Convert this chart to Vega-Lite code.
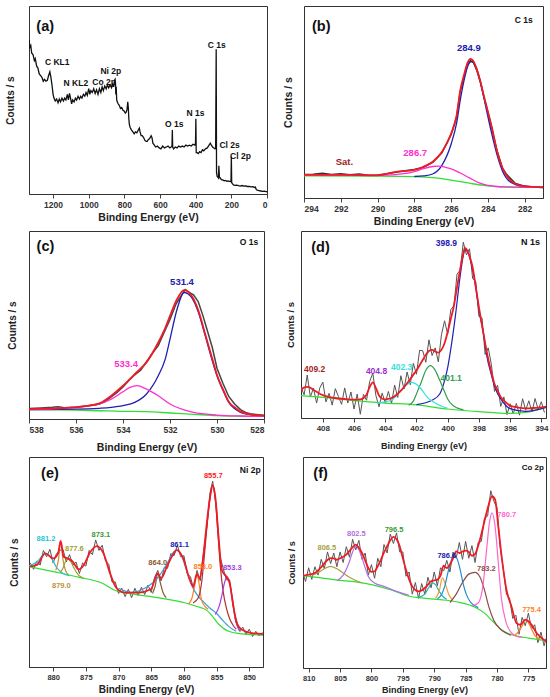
{
  "$schema": "https://vega.github.io/schema/vega-lite/v6.json",
  "padding": {"left": 4, "top": 5, "right": 2, "bottom": 2},
  "background": "white",
  "config": {
    "font": "Liberation Sans",
    "view": {"stroke": "#333", "strokeWidth": 1},
    "axis": {"grid": false, "labelFontWeight": "bold", "labelFontSize": 8.5, "labelColor": "#333", "titleFontWeight": "bold", "titleFontSize": 10.5, "titleColor": "#222", "tickColor": "#444", "domainColor": "#333", "tickSize": 4, "labelPadding": 2, "titlePadding": 4},
    "axisY": {"labels": false, "ticks": false, "domain": false},
    "text": {"font": "Liberation Sans", "fontWeight": "bold"}
  },
  "datasets": {
    "a_raw": [
      {"x":1335,"y":82},{"x":1330,"y":78},{"x":1325,"y":79},{"x":1320,"y":75},{"x":1312,"y":74},{"x":1305,"y":71},{"x":1300,"y":72},{"x":1292,"y":68},{"x":1285,"y":67},{"x":1278,"y":64},{"x":1270,"y":63},{"x":1262,"y":62},{"x":1255,"y":60},{"x":1248,"y":61},{"x":1240,"y":60},{"x":1232,"y":60.5},{"x":1225,"y":63},{"x":1218,"y":65},{"x":1212,"y":62},{"x":1206,"y":58},{"x":1200,"y":53},{"x":1195,"y":51},{"x":1188,"y":49.5},{"x":1180,"y":50.5},{"x":1172,"y":48.5},{"x":1165,"y":50.5},{"x":1158,"y":49},{"x":1150,"y":51},{"x":1142,"y":49.5},{"x":1135,"y":51},{"x":1128,"y":50},{"x":1120,"y":53},{"x":1114,"y":50},{"x":1108,"y":53.5},{"x":1102,"y":51},{"x":1096,"y":48},{"x":1090,"y":50},{"x":1082,"y":49},{"x":1075,"y":51},{"x":1068,"y":50},{"x":1060,"y":52},{"x":1052,"y":50.5},{"x":1045,"y":52},{"x":1038,"y":51},{"x":1030,"y":53},{"x":1022,"y":52},{"x":1015,"y":54},{"x":1008,"y":52.5},{"x":1000,"y":56},{"x":994,"y":53},{"x":988,"y":55},{"x":980,"y":54},{"x":972,"y":56},{"x":964,"y":53.5},{"x":956,"y":55.5},{"x":948,"y":53},{"x":940,"y":56},{"x":932,"y":54},{"x":925,"y":57},{"x":918,"y":55},{"x":910,"y":57.5},{"x":902,"y":56},{"x":895,"y":58},{"x":888,"y":56.5},{"x":880,"y":58},{"x":872,"y":56.5},{"x":866,"y":58.5},{"x":860,"y":57},{"x":855,"y":60.5},{"x":852,"y":61},{"x":850,"y":59},{"x":848,"y":53},{"x":846,"y":57},{"x":843,"y":50},{"x":840,"y":49},{"x":835,"y":48},{"x":828,"y":47},{"x":822,"y":45.5},{"x":815,"y":46},{"x":808,"y":44.5},{"x":800,"y":44},{"x":795,"y":43},{"x":790,"y":43.5},{"x":785,"y":45},{"x":781,"y":49},{"x":778,"y":46},{"x":775,"y":40},{"x":772,"y":37},{"x":768,"y":35.5},{"x":760,"y":34},{"x":752,"y":33},{"x":745,"y":32},{"x":738,"y":33},{"x":730,"y":32.5},{"x":722,"y":34},{"x":716,"y":35},{"x":712,"y":33},{"x":706,"y":31},{"x":700,"y":31},{"x":692,"y":30},{"x":685,"y":28.5},{"x":678,"y":28},{"x":672,"y":28},{"x":665,"y":29},{"x":658,"y":29.5},{"x":650,"y":31},{"x":645,"y":30},{"x":640,"y":27},{"x":632,"y":26},{"x":625,"y":25},{"x":615,"y":25.5},{"x":605,"y":24.5},{"x":595,"y":24},{"x":585,"y":25.5},{"x":575,"y":24.5},{"x":565,"y":25},{"x":555,"y":25.5},{"x":545,"y":24.5},{"x":538,"y":25},{"x":533,"y":25.5},{"x":531,"y":34},{"x":529,"y":25},{"x":524,"y":24},{"x":515,"y":25},{"x":505,"y":24.5},{"x":495,"y":25.5},{"x":485,"y":25},{"x":475,"y":25.5},{"x":465,"y":25},{"x":455,"y":26},{"x":445,"y":25.5},{"x":435,"y":26},{"x":425,"y":25.5},{"x":415,"y":26.5},{"x":405,"y":26},{"x":401,"y":27},{"x":399,"y":40},{"x":397,"y":22},{"x":392,"y":22},{"x":385,"y":21.5},{"x":378,"y":22.5},{"x":370,"y":22},{"x":362,"y":23.5},{"x":355,"y":23},{"x":345,"y":24},{"x":335,"y":24.5},{"x":325,"y":26},{"x":318,"y":27},{"x":312,"y":26},{"x":305,"y":25},{"x":298,"y":24.5},{"x":292,"y":24},{"x":288,"y":24.5},{"x":285,"y":77},{"x":283,"y":11.5},{"x":280,"y":9.5},{"x":276,"y":9},{"x":272,"y":8.5},{"x":270,"y":15},{"x":267,"y":9},{"x":262,"y":8.5},{"x":255,"y":7.5},{"x":248,"y":7.5},{"x":240,"y":7},{"x":232,"y":7.2},{"x":225,"y":6.8},{"x":218,"y":7},{"x":212,"y":6.6},{"x":206,"y":6.8},{"x":202,"y":6.5},{"x":200,"y":20},{"x":198,"y":6},{"x":194,"y":5.5},{"x":188,"y":4.8},{"x":180,"y":4.6},{"x":170,"y":4.7},{"x":160,"y":4.4},{"x":150,"y":4.2},{"x":140,"y":4.5},{"x":130,"y":4.2},{"x":120,"y":4.3},{"x":110,"y":4},{"x":100,"y":4.1},{"x":90,"y":3.8},{"x":80,"y":3.9},{"x":70,"y":3.5},{"x":65,"y":3.7},{"x":60,"y":2.3},{"x":55,"y":2},{"x":45,"y":1.8},{"x":35,"y":1.6},{"x":25,"y":1.4},{"x":15,"y":1.5},{"x":5,"y":1.3},{"x":0,"y":1.2}
    ],
    "a_lab": [
      {"x":1177,"y":70,"t":"C KL1"},{"x":1072,"y":59,"t":"N KL2"},{"x":914,"y":59.5,"t":"Co 2p"},{"x":876,"y":65.5,"t":"Ni 2p"},{"x":520,"y":37,"t":"O 1s"},{"x":401,"y":43,"t":"N 1s"},{"x":282,"y":79.5,"t":"C 1s"},{"x":210,"y":26,"t":"Cl 2s"},{"x":149,"y":20,"t":"Cl 2p"}
    ],
    "b_raw": [
      {"x":294,"y":12.2},{"x":293.5,"y":12.4},{"x":293,"y":12.9},{"x":292.5,"y":12.3},{"x":292,"y":12.6},{"x":291.5,"y":12.1},{"x":291,"y":12.5},{"x":290.5,"y":11.9},{"x":290,"y":12.0},{"x":289.5,"y":12.6},{"x":289,"y":13.4},{"x":288.5,"y":14.2},{"x":288,"y":14.9},{"x":287.5,"y":16.0},{"x":287,"y":18.6},{"x":286.5,"y":23.5},{"x":286,"y":33.0},{"x":285.7,"y":42},{"x":285.5,"y":55.5},{"x":285.3,"y":63},{"x":285.1,"y":69.5},{"x":284.95,"y":71.5},{"x":284.8,"y":70.8},{"x":284.6,"y":66.5},{"x":284.4,"y":60},{"x":284.2,"y":52},{"x":284,"y":44.8},{"x":283.8,"y":37},{"x":283.5,"y":24.5},{"x":283.2,"y":15.5},{"x":283,"y":12.5},{"x":282.5,"y":7.6},{"x":282,"y":6.2},{"x":281.5,"y":5.7},{"x":281,"y":5.5}
    ],
    "b_sum": [
      {"x":294,"y":12},{"x":292,"y":12},{"x":290,"y":11.8},{"x":289,"y":13.6},{"x":288,"y":14.6},{"x":287.5,"y":16.3},{"x":287,"y":18.9},{"x":286.5,"y":24},{"x":286,"y":33.5},{"x":285.7,"y":43},{"x":285.5,"y":56},{"x":285.3,"y":64},{"x":285.1,"y":70.5},{"x":284.95,"y":72.5},{"x":284.8,"y":71.5},{"x":284.6,"y":67},{"x":284.4,"y":60.5},{"x":284.2,"y":52.5},{"x":284,"y":45},{"x":283.8,"y":37.5},{"x":283.5,"y":24.5},{"x":283.2,"y":15.5},{"x":283,"y":12},{"x":282.5,"y":7.3},{"x":282,"y":6.1},{"x":281,"y":5.6}
    ],
    "b_fit": [
      {"x":294,"y":11.5,"s":"bg"},{"x":290,"y":11.4,"s":"bg"},{"x":288,"y":11.1,"s":"bg"},{"x":287,"y":10.6,"s":"bg"},{"x":286.5,"y":10.1,"s":"bg"},{"x":286,"y":9.3,"s":"bg"},{"x":285.5,"y":8.5,"s":"bg"},{"x":285,"y":7.7,"s":"bg"},{"x":284.5,"y":6.9,"s":"bg"},{"x":284,"y":6.3,"s":"bg"},{"x":283.5,"y":5.9,"s":"bg"},{"x":283,"y":5.7,"s":"bg"},{"x":281,"y":5.5,"s":"bg"},
      {"x":288,"y":11.2,"s":"p1"},{"x":287.5,"y":11.5,"s":"p1"},{"x":287,"y":12.5,"s":"p1"},{"x":286.5,"y":17,"s":"p1"},{"x":286,"y":28,"s":"p1"},{"x":285.7,"y":39,"s":"p1"},{"x":285.5,"y":51,"s":"p1"},{"x":285.3,"y":61,"s":"p1"},{"x":285.1,"y":68.5,"s":"p1"},{"x":284.9,"y":71,"s":"p1"},{"x":284.7,"y":69.5,"s":"p1"},{"x":284.5,"y":64,"s":"p1"},{"x":284.3,"y":56,"s":"p1"},{"x":284.1,"y":47,"s":"p1"},{"x":283.8,"y":34,"s":"p1"},{"x":283.5,"y":22.5,"s":"p1"},{"x":283.2,"y":14,"s":"p1"},{"x":283,"y":10.5,"s":"p1"},{"x":282.5,"y":7,"s":"p1"},{"x":282,"y":6,"s":"p1"},{"x":281,"y":5.5,"s":"p1"},
      {"x":294,"y":12,"s":"p2"},{"x":290,"y":11.8,"s":"p2"},{"x":289,"y":12.2,"s":"p2"},{"x":288,"y":13.7,"s":"p2"},{"x":287.5,"y":15.3,"s":"p2"},{"x":287,"y":16.4,"s":"p2"},{"x":286.7,"y":16.6,"s":"p2"},{"x":286.3,"y":16,"s":"p2"},{"x":286,"y":15.2,"s":"p2"},{"x":285.5,"y":13,"s":"p2"},{"x":285,"y":10.5,"s":"p2"},{"x":284.5,"y":8,"s":"p2"},{"x":284,"y":6.6,"s":"p2"},{"x":283.5,"y":6,"s":"p2"},{"x":283,"y":5.8,"s":"p2"},{"x":281,"y":5.5,"s":"p2"}
    ],
    "b_lab": [
      {"x":285.03,"y":78,"t":"284.9","s":"p1"},{"x":287.95,"y":23.6,"t":"286.7","s":"p2"},{"x":291.8,"y":18.8,"t":"Sat.","s":"sat"}
    ],
    "c_raw": [
      {"x":538,"y":5.6},{"x":537.5,"y":5.9},{"x":537,"y":6.2},{"x":536.75,"y":6.5},{"x":536.5,"y":6.0},{"x":536,"y":6.4},{"x":535.5,"y":7.0},{"x":535,"y":8.0},{"x":534.75,"y":9.5},{"x":534.5,"y":11.8},{"x":534.25,"y":14.2},{"x":534,"y":17.0},{"x":533.75,"y":20.5},{"x":533.5,"y":23.5},{"x":533.25,"y":26.0},{"x":533,"y":30.5},{"x":532.75,"y":35.0},{"x":532.5,"y":39.0},{"x":532.25,"y":46},{"x":532,"y":53},{"x":531.75,"y":61},{"x":531.5,"y":66},{"x":531.35,"y":68.8},{"x":531.2,"y":67.5},{"x":531,"y":66},{"x":530.8,"y":62.5},{"x":530.6,"y":55},{"x":530.4,"y":46.5},{"x":530.2,"y":38},{"x":530,"y":27},{"x":529.75,"y":19},{"x":529.5,"y":12},{"x":529.25,"y":8},{"x":529,"y":5},{"x":528.75,"y":3.3},{"x":528.5,"y":2.6},{"x":528.25,"y":2.3},{"x":528,"y":2.0}
    ],
    "c_sum": [
      {"x":538,"y":5.3},{"x":537,"y":5.6},{"x":536,"y":6.2},{"x":535.5,"y":7},{"x":535,"y":8.3},{"x":534.5,"y":12.4},{"x":534,"y":17.7},{"x":533.5,"y":23.9},{"x":533,"y":30.1},{"x":532.5,"y":40.7},{"x":532.2,"y":48.5},{"x":532,"y":54.9},{"x":531.7,"y":63.7},{"x":531.4,"y":68.5},{"x":531.1,"y":66},{"x":530.8,"y":58},{"x":530.5,"y":45.1},{"x":530.2,"y":32},{"x":530,"y":23.4},{"x":529.7,"y":14.5},{"x":529.5,"y":9.2},{"x":529.2,"y":5.8},{"x":529,"y":3.9},{"x":528.5,"y":2.3},{"x":528,"y":1.8}
    ],
    "c_fit": [
      {"x":538,"y":5,"s":"bg"},{"x":536,"y":4.7,"s":"bg"},{"x":535,"y":4.4,"s":"bg"},{"x":534,"y":4.1,"s":"bg"},{"x":533,"y":3.9,"s":"bg"},{"x":532,"y":3.2,"s":"bg"},{"x":531,"y":2.5,"s":"bg"},{"x":530,"y":1.8,"s":"bg"},{"x":529,"y":1.5,"s":"bg"},{"x":528,"y":1.4,"s":"bg"},
      {"x":538,"y":5,"s":"p1"},{"x":536,"y":5.2,"s":"p1"},{"x":535,"y":5.7,"s":"p1"},{"x":534.5,"y":6.2,"s":"p1"},{"x":534,"y":7.1,"s":"p1"},{"x":533.5,"y":8.8,"s":"p1"},{"x":533,"y":13.3,"s":"p1"},{"x":532.5,"y":23,"s":"p1"},{"x":532.2,"y":32,"s":"p1"},{"x":532,"y":42.5,"s":"p1"},{"x":531.7,"y":58.4,"s":"p1"},{"x":531.4,"y":67.3,"s":"p1"},{"x":531.1,"y":65,"s":"p1"},{"x":530.8,"y":57,"s":"p1"},{"x":530.5,"y":44.2,"s":"p1"},{"x":530.2,"y":31,"s":"p1"},{"x":530,"y":23,"s":"p1"},{"x":529.7,"y":14,"s":"p1"},{"x":529.5,"y":8.8,"s":"p1"},{"x":529.2,"y":5,"s":"p1"},{"x":529,"y":3.5,"s":"p1"},{"x":528.5,"y":2.1,"s":"p1"},{"x":528,"y":1.4,"s":"p1"},
      {"x":538,"y":5,"s":"p2"},{"x":537,"y":5.4,"s":"p2"},{"x":536,"y":6.2,"s":"p2"},{"x":535,"y":8,"s":"p2"},{"x":534.5,"y":10.6,"s":"p2"},{"x":534,"y":14.5,"s":"p2"},{"x":533.7,"y":16.8,"s":"p2"},{"x":533.4,"y":17.7,"s":"p2"},{"x":533,"y":15.9,"s":"p2"},{"x":532.5,"y":12.4,"s":"p2"},{"x":532,"y":8,"s":"p2"},{"x":531.5,"y":5.3,"s":"p2"},{"x":531,"y":3.5,"s":"p2"},{"x":530,"y":2.1,"s":"p2"},{"x":529,"y":1.6,"s":"p2"},{"x":528,"y":1.4,"s":"p2"}
    ],
    "c_lab": [
      {"x":531.49,"y":72.9,"t":"531.4","s":"p1"},{"x":533.87,"y":29.2,"t":"533.4","s":"p2"}
    ],
    "d_raw": [
      {"x":409.4,"y":16.6},{"x":409.2,"y":12.4},{"x":409.0,"y":23},{"x":408.8,"y":11.2},{"x":408.6,"y":16},{"x":408.4,"y":8},{"x":408.2,"y":16},{"x":408.0,"y":19.2},{"x":407.8,"y":8.6},{"x":407.6,"y":13.2},{"x":407.4,"y":6.9},{"x":407.2,"y":15.7},{"x":407.0,"y":11.5},{"x":406.8,"y":7.3},{"x":406.6,"y":16.1},{"x":406.4,"y":8},{"x":406.2,"y":13.9},{"x":406.0,"y":4.8},{"x":405.8,"y":12.8},{"x":405.6,"y":2},{"x":405.4,"y":12.6},{"x":405.2,"y":9.5},{"x":405.0,"y":19.5},{"x":404.8,"y":24},{"x":404.6,"y":12},{"x":404.4,"y":6},{"x":404.2,"y":13.3},{"x":404.0,"y":8},{"x":403.8,"y":14.2},{"x":403.6,"y":7.7},{"x":403.4,"y":17.6},{"x":403.2,"y":11},{"x":403.0,"y":22.6},{"x":402.8,"y":15.5},{"x":402.6,"y":24.6},{"x":402.4,"y":17.8},{"x":402.2,"y":29.2},{"x":402.0,"y":23.4},{"x":401.8,"y":36.2},{"x":401.6,"y":36},{"x":401.4,"y":29.8},{"x":401.2,"y":41.8},{"x":401.0,"y":33.4},{"x":400.8,"y":37.5},{"x":400.6,"y":30},{"x":400.4,"y":44.5},{"x":400.2,"y":52},{"x":400.0,"y":44.8},{"x":399.8,"y":58},{"x":399.6,"y":60},{"x":399.4,"y":77},{"x":399.2,"y":79},{"x":399.0,"y":94},{"x":398.8,"y":87.3},{"x":398.6,"y":90.5},{"x":398.4,"y":74.5},{"x":398.2,"y":73},{"x":398.0,"y":54.3},{"x":397.8,"y":53.5},{"x":397.6,"y":34},{"x":397.4,"y":37.5},{"x":397.2,"y":28.5},{"x":397.0,"y":14.2},{"x":396.8,"y":17.5},{"x":396.6,"y":6.2},{"x":396.4,"y":11.3},{"x":396.2,"y":1.8},{"x":396.0,"y":7.6},{"x":395.8,"y":2.2},{"x":395.6,"y":7.8},{"x":395.4,"y":1.5},{"x":395.2,"y":10.3},{"x":395.0,"y":4.2},{"x":394.8,"y":9.2},{"x":394.6,"y":3.3},{"x":394.4,"y":10.4},{"x":394.2,"y":4.5},{"x":394.0,"y":8.7},{"x":393.8,"y":2.9}
    ],
    "d_sum": [
      {"x":409.4,"y":14.6},{"x":409.2,"y":16.4},{"x":409.0,"y":16.6},{"x":408.8,"y":16.2},{"x":408.6,"y":15},{"x":408.4,"y":14},{"x":408.2,"y":13},{"x":408.0,"y":12.2},{"x":407.6,"y":11.2},{"x":407.2,"y":10.7},{"x":406.8,"y":10.3},{"x":406.4,"y":10},{"x":406.0,"y":9.8},{"x":405.6,"y":10},{"x":405.4,"y":10.6},{"x":405.2,"y":12.5},{"x":405.0,"y":16.5},{"x":404.8,"y":19},{"x":404.6,"y":16},{"x":404.4,"y":12},{"x":404.2,"y":10.3},{"x":404.0,"y":10},{"x":403.8,"y":10.2},{"x":403.6,"y":10.7},{"x":403.4,"y":11.6},{"x":403.2,"y":13},{"x":403.0,"y":14.6},{"x":402.8,"y":16.5},{"x":402.6,"y":18.6},{"x":402.4,"y":20.8},{"x":402.2,"y":23.2},{"x":402.0,"y":25.4},{"x":401.8,"y":28.2},{"x":401.6,"y":31},{"x":401.4,"y":33.8},{"x":401.2,"y":35.8},{"x":401.0,"y":36.4},{"x":400.8,"y":35.5},{"x":400.6,"y":35},{"x":400.4,"y":36.5},{"x":400.2,"y":40},{"x":400.0,"y":46},{"x":399.8,"y":53},{"x":399.6,"y":60},{"x":399.4,"y":70},{"x":399.2,"y":79.5},{"x":399.0,"y":88},{"x":398.9,"y":91},{"x":398.8,"y":90.3},{"x":398.6,"y":86.5},{"x":398.4,"y":80.5},{"x":398.2,"y":70},{"x":398.0,"y":59.3},{"x":397.8,"y":49.5},{"x":397.6,"y":40},{"x":397.4,"y":31.5},{"x":397.2,"y":24.5},{"x":397.0,"y":18.2},{"x":396.8,"y":14.5},{"x":396.6,"y":11.2},{"x":396.4,"y":9.3},{"x":396.2,"y":7.8},{"x":396.0,"y":6.6},{"x":395.6,"y":5.8},{"x":395.2,"y":5.3},{"x":394.8,"y":5.2},{"x":394.4,"y":5.4},{"x":394.0,"y":5.7},{"x":393.7,"y":6.1}
    ],
    "d_fit": [
      {"x":409.4,"y":12,"s":"bg"},{"x":408,"y":11,"s":"bg"},{"x":406,"y":9.3,"s":"bg"},{"x":404,"y":8,"s":"bg"},{"x":402,"y":7,"s":"bg"},{"x":400,"y":4.8,"s":"bg"},{"x":398,"y":3.4,"s":"bg"},{"x":396,"y":2.5,"s":"bg"},{"x":395,"y":3,"s":"bg"},{"x":393.7,"y":5.7,"s":"bg"},
      {"x":402,"y":7.2,"s":"p1"},{"x":401,"y":9.5,"s":"p1"},{"x":400.5,"y":13,"s":"p1"},{"x":400.2,"y":20,"s":"p1"},{"x":400,"y":27,"s":"p1"},{"x":399.8,"y":37,"s":"p1"},{"x":399.5,"y":55,"s":"p1"},{"x":399.2,"y":76,"s":"p1"},{"x":399,"y":87,"s":"p1"},{"x":398.9,"y":90,"s":"p1"},{"x":398.7,"y":88.5,"s":"p1"},{"x":398.5,"y":83,"s":"p1"},{"x":398.2,"y":70,"s":"p1"},{"x":398,"y":58,"s":"p1"},{"x":397.7,"y":45,"s":"p1"},{"x":397.5,"y":33.5,"s":"p1"},{"x":397.2,"y":23,"s":"p1"},{"x":397,"y":17,"s":"p1"},{"x":396.5,"y":9,"s":"p1"},{"x":396,"y":5,"s":"p1"},{"x":395,"y":3.5,"s":"p1"},{"x":393.7,"y":5.7,"s":"p1"},
      {"x":402.5,"y":6.8,"s":"p2"},{"x":402.2,"y":9,"s":"p2"},{"x":402,"y":12.9,"s":"p2"},{"x":401.7,"y":19,"s":"p2"},{"x":401.4,"y":25.5,"s":"p2"},{"x":401.1,"y":28,"s":"p2"},{"x":400.8,"y":25.5,"s":"p2"},{"x":400.5,"y":20,"s":"p2"},{"x":400.2,"y":14,"s":"p2"},{"x":400,"y":10.2,"s":"p2"},{"x":399.7,"y":7,"s":"p2"},{"x":399.4,"y":5.4,"s":"p2"},{"x":399,"y":4.3,"s":"p2"},
      {"x":404.5,"y":8.2,"s":"p3"},{"x":404,"y":8.6,"s":"p3"},{"x":403.5,"y":10.2,"s":"p3"},{"x":403,"y":14.6,"s":"p3"},{"x":402.6,"y":18,"s":"p3"},{"x":402.3,"y":19.1,"s":"p3"},{"x":402,"y":18,"s":"p3"},{"x":401.7,"y":15.5,"s":"p3"},{"x":401.3,"y":11,"s":"p3"},{"x":400.8,"y":8,"s":"p3"},{"x":400.3,"y":6,"s":"p3"},{"x":400,"y":5.2,"s":"p3"}
    ],
    "d_lab": [
      {"x":400.08,"y":93.7,"t":"398.9","s":"p1"},{"x":399.78,"y":21.4,"t":"401.1","s":"p2"},{"x":402.95,"y":27.1,"t":"402.3","s":"p3"},{"x":404.56,"y":25.4,"t":"404.8","s":"p4"},{"x":408.53,"y":26,"t":"409.2","s":"p5"}
    ],
    "e_raw": [
      {"x":883.5,"y":49.5},{"x":883,"y":46.5},{"x":882.5,"y":50.5},{"x":882,"y":48.5},{"x":881.5,"y":55.5},{"x":881,"y":52.5},{"x":880.5,"y":56},{"x":880,"y":49.5},{"x":879.5,"y":54},{"x":879,"y":55.5},{"x":878.5,"y":56},{"x":878,"y":50},{"x":877.5,"y":53.5},{"x":877,"y":48.5},{"x":876.5,"y":50},{"x":876,"y":44.5},{"x":875.5,"y":49.5},{"x":875,"y":48},{"x":874.5,"y":55.5},{"x":874,"y":53.5},{"x":873.5,"y":60.5},{"x":873,"y":55.5},{"x":872.5,"y":58},{"x":872,"y":50.5},{"x":871.5,"y":49},{"x":871,"y":40.5},{"x":870.5,"y":40.5},{"x":870,"y":35},{"x":869.5,"y":37.5},{"x":869,"y":33.5},{"x":868.5,"y":37},{"x":868,"y":33},{"x":867.5,"y":37.5},{"x":867,"y":34},{"x":866.5,"y":38},{"x":866,"y":34.5},{"x":865.5,"y":39},{"x":865,"y":35.5},{"x":864.5,"y":42.5},{"x":864,"y":46},{"x":863.5,"y":41},{"x":863,"y":47.5},{"x":862.5,"y":47},{"x":862,"y":54},{"x":861.5,"y":53},{"x":861,"y":58},{"x":860.5,"y":52.5},{"x":860,"y":53},{"x":859.5,"y":44.5},{"x":859,"y":43},{"x":858.5,"y":37},{"x":858,"y":46},{"x":857.5,"y":41},{"x":857,"y":54.5},{"x":856.5,"y":66.5},{"x":856,"y":83},{"x":855.6,"y":88.5},{"x":855.2,"y":79.5},{"x":855,"y":75.5},{"x":854.5,"y":53},{"x":854,"y":47},{"x":853.5,"y":41.5},{"x":853,"y":41.5},{"x":852.5,"y":29},{"x":852,"y":23},{"x":851.5,"y":17},{"x":851,"y":19},{"x":850.5,"y":15.5},{"x":850,"y":18},{"x":849.5,"y":14.5},{"x":849,"y":17},{"x":848.5,"y":14.8},{"x":848,"y":16.5}
    ],
    "e_sum": [
      {"x":883.7,"y":47.8},{"x":882.5,"y":48.6},{"x":881.2,"y":54.1},{"x":880,"y":51.7},{"x":879.25,"y":54.1},{"x":878.85,"y":60.1},{"x":878.4,"y":52.5},{"x":877.75,"y":51.7},{"x":877,"y":50.2},{"x":876.1,"y":46.5},{"x":875.3,"y":48.6},{"x":874.3,"y":54.9},{"x":873.3,"y":57.6},{"x":872.3,"y":54.1},{"x":871.3,"y":44.6},{"x":870.3,"y":37.5},{"x":869,"y":35.4},{"x":867,"y":35.4},{"x":865.05,"y":37},{"x":864,"y":44.6},{"x":863.5,"y":42.2},{"x":862.6,"y":47.8},{"x":861.8,"y":52.8},{"x":861.1,"y":55.7},{"x":860.1,"y":51.7},{"x":859.1,"y":41.5},{"x":858.6,"y":38.3},{"x":858,"y":44.3},{"x":857.6,"y":42.2},{"x":857.1,"y":50.9},{"x":856.5,"y":68.4},{"x":856,"y":81},{"x":855.6,"y":86.6},{"x":855.2,"y":81},{"x":854.7,"y":62},{"x":854.2,"y":46.2},{"x":853.5,"y":43},{"x":853,"y":39.9},{"x":852.5,"y":30.4},{"x":852,"y":21.7},{"x":851.1,"y":17.7},{"x":849.6,"y":16.1},{"x":847.9,"y":15.7}
    ],
    "e_fit": [
      {"x":883.7,"y":47.8,"s":"bg"},{"x":880,"y":45.4,"s":"bg"},{"x":876,"y":42.7,"s":"bg"},{"x":872.5,"y":39.9,"s":"bg"},{"x":870.5,"y":36.4,"s":"bg"},{"x":868,"y":34.8,"s":"bg"},{"x":865,"y":33.5,"s":"bg"},{"x":862,"y":32,"s":"bg"},{"x":860,"y":30.7,"s":"bg"},{"x":858,"y":28.8,"s":"bg"},{"x":856.6,"y":27.2,"s":"bg"},{"x":855.6,"y":24,"s":"bg"},{"x":854.6,"y":20.1,"s":"bg"},{"x":853.1,"y":16.9,"s":"bg"},{"x":851.1,"y":15.8,"s":"bg"},{"x":847.9,"y":15.2,"s":"bg"},
      {"x":883.7,"y":48.3,"s":"p1"},{"x":882.5,"y":50,"s":"p1"},{"x":881.2,"y":54.1,"s":"p1"},{"x":880.2,"y":51.5,"s":"p1"},{"x":879.5,"y":47.5,"s":"p1"},{"x":878.5,"y":44.5,"s":"p1"},{"x":877.5,"y":43.5,"s":"p1"},
      {"x":879.6,"y":46,"s":"p2"},{"x":879.2,"y":51,"s":"p2"},{"x":878.85,"y":59.5,"s":"p2"},{"x":878.5,"y":51,"s":"p2"},{"x":878.1,"y":45.8,"s":"p2"},{"x":877.7,"y":44,"s":"p2"},
      {"x":879,"y":45,"s":"p3"},{"x":878.5,"y":47,"s":"p3"},{"x":878.1,"y":50.5,"s":"p3"},{"x":877.75,"y":51.5,"s":"p3"},{"x":877.3,"y":50,"s":"p3"},{"x":876.8,"y":47,"s":"p3"},{"x":876.2,"y":44,"s":"p3"},{"x":875.5,"y":42.5,"s":"p3"},
      {"x":864.8,"y":35,"s":"p5"},{"x":864.4,"y":38.5,"s":"p5"},{"x":864,"y":44.3,"s":"p5"},{"x":863.6,"y":40,"s":"p5"},{"x":863.2,"y":35.5,"s":"p5"},{"x":862.7,"y":33,"s":"p5"},
      {"x":870,"y":37.5,"s":"p6"},{"x":868,"y":35.5,"s":"p6"},{"x":866,"y":37.5,"s":"p6"},{"x":865,"y":39.5,"s":"p6"},{"x":864,"y":42.5,"s":"p6"},{"x":863,"y":47,"s":"p6"},{"x":862,"y":52.5,"s":"p6"},{"x":861.5,"y":55,"s":"p6"},{"x":861.1,"y":55.7,"s":"p6"},{"x":860.6,"y":54.5,"s":"p6"},{"x":860.1,"y":50.8,"s":"p6"},{"x":859.6,"y":46,"s":"p6"},{"x":859.1,"y":41.5,"s":"p6"},{"x":858.6,"y":37.5,"s":"p6"},{"x":858,"y":34.5,"s":"p6"},{"x":857,"y":31,"s":"p6"},{"x":856,"y":28,"s":"p6"},{"x":855,"y":25.5,"s":"p6"},{"x":854,"y":22,"s":"p6"},{"x":853,"y":19,"s":"p6"},{"x":852,"y":17,"s":"p6"},
      {"x":859.3,"y":30,"s":"p8"},{"x":858.8,"y":32.5,"s":"p8"},{"x":858.4,"y":38,"s":"p8"},{"x":858,"y":44.3,"s":"p8"},{"x":857.7,"y":40,"s":"p8"},{"x":857.3,"y":32,"s":"p8"},{"x":856.8,"y":29,"s":"p8"},{"x":856.3,"y":27.5,"s":"p8"},
      {"x":858.6,"y":30.5,"s":"p7"},{"x":857.8,"y":33,"s":"p7"},{"x":857.3,"y":40,"s":"p7"},{"x":856.9,"y":52,"s":"p7"},{"x":856.5,"y":66,"s":"p7"},{"x":856,"y":80.5,"s":"p7"},{"x":855.6,"y":86.6,"s":"p7"},{"x":855.2,"y":80.5,"s":"p7"},{"x":854.8,"y":64,"s":"p7"},{"x":854.4,"y":47,"s":"p7"},{"x":854,"y":36,"s":"p7"},{"x":853.5,"y":28,"s":"p7"},{"x":853,"y":23,"s":"p7"},{"x":852.5,"y":20,"s":"p7"},{"x":852,"y":18,"s":"p7"},
      {"x":855.2,"y":25,"s":"p9"},{"x":854.6,"y":29,"s":"p9"},{"x":854.2,"y":34,"s":"p9"},{"x":853.8,"y":40,"s":"p9"},{"x":853.4,"y":43,"s":"p9"},{"x":853,"y":40,"s":"p9"},{"x":852.6,"y":33,"s":"p9"},{"x":852.2,"y":24,"s":"p9"},{"x":851.8,"y":19,"s":"p9"},{"x":851.3,"y":17,"s":"p9"}
    ],
    "e_lab": [
      {"x":881.1,"y":60.8,"t":"881.2","s":"p1"},{"x":876.76,"y":56,"t":"877.6","s":"p3"},{"x":878.75,"y":38.6,"t":"879.0","s":"p2"},{"x":872.7,"y":63,"t":"873.1","s":"p4"},{"x":864.0,"y":49.7,"t":"864.0","s":"p5"},{"x":860.67,"y":58.1,"t":"861.1","s":"l6"},{"x":857.1,"y":47.5,"t":"858.0","s":"p8"},{"x":855.5,"y":90.8,"t":"855.7","s":"l7"},{"x":852.6,"y":47,"t":"853.3","s":"p9"}
    ],
    "f_raw": [
      {"x":810.9,"y":45},{"x":810.5,"y":41},{"x":810,"y":47.5},{"x":809.5,"y":42},{"x":809,"y":48},{"x":808.5,"y":44},{"x":808,"y":51.5},{"x":807.5,"y":47},{"x":807,"y":55},{"x":806.5,"y":49.5},{"x":806,"y":54.5},{"x":805.5,"y":48},{"x":805,"y":55},{"x":804.5,"y":50},{"x":804,"y":57.5},{"x":803.5,"y":52.5},{"x":803,"y":61},{"x":802.5,"y":56},{"x":802,"y":60.5},{"x":801.5,"y":51.5},{"x":801,"y":54.5},{"x":800.5,"y":44},{"x":800,"y":49},{"x":799.5,"y":42.5},{"x":799,"y":52},{"x":798.5,"y":48},{"x":798,"y":58.5},{"x":797.5,"y":54.5},{"x":797,"y":63.5},{"x":796.5,"y":59},{"x":796,"y":64},{"x":795.5,"y":55},{"x":795,"y":55},{"x":794.5,"y":43.5},{"x":794,"y":45.5},{"x":793.5,"y":35},{"x":793,"y":40.5},{"x":792.5,"y":33},{"x":792,"y":40},{"x":791.5,"y":35},{"x":791,"y":43},{"x":790.5,"y":38},{"x":790,"y":45.5},{"x":789.5,"y":39},{"x":789,"y":47.5},{"x":788.5,"y":46},{"x":788,"y":51},{"x":787.5,"y":45.5},{"x":787,"y":55},{"x":786.5,"y":52},{"x":786,"y":59.5},{"x":785.5,"y":51.5},{"x":785,"y":60},{"x":784.5,"y":52},{"x":784,"y":58},{"x":783.5,"y":50},{"x":783,"y":59.5},{"x":782.5,"y":60},{"x":782,"y":71},{"x":781.5,"y":72},{"x":781,"y":84},{"x":780.5,"y":79},{"x":780,"y":76},{"x":779.5,"y":57},{"x":779,"y":47},{"x":778.5,"y":35},{"x":778,"y":33},{"x":777.5,"y":23.5},{"x":777,"y":25},{"x":776.5,"y":16},{"x":776,"y":24},{"x":775.5,"y":20},{"x":775,"y":26},{"x":774.5,"y":18.5},{"x":774,"y":20.5},{"x":773.5,"y":12},{"x":773,"y":17},{"x":772.5,"y":10.5},{"x":772.2,"y":14}
    ],
    "f_sum": [
      {"x":810.9,"y":43.8},{"x":810,"y":44.2},{"x":809,"y":45},{"x":808,"y":47.8},{"x":807,"y":51.2},{"x":806.5,"y":52.1},{"x":806,"y":52},{"x":805.5,"y":51.3},{"x":805,"y":52},{"x":804,"y":53.7},{"x":803.5,"y":55.5},{"x":803,"y":57.2},{"x":802.5,"y":58.5},{"x":802,"y":57},{"x":801.5,"y":54.5},{"x":801,"y":51},{"x":800.5,"y":47.4},{"x":800,"y":45.6},{"x":799.5,"y":45.8},{"x":799,"y":48.2},{"x":798.5,"y":51.3},{"x":798,"y":54.8},{"x":797.5,"y":57.7},{"x":797,"y":60.5},{"x":796.5,"y":62.1},{"x":796,"y":61},{"x":795.5,"y":57.7},{"x":795,"y":52},{"x":794.5,"y":46.6},{"x":794,"y":42},{"x":793.5,"y":38.7},{"x":793,"y":37},{"x":792.5,"y":36.3},{"x":792,"y":36.8},{"x":791.5,"y":37.9},{"x":791,"y":39.5},{"x":790.5,"y":41.1},{"x":790,"y":41.5},{"x":789.5,"y":41.9},{"x":789,"y":43.8},{"x":788.5,"y":48.5},{"x":788,"y":47.4},{"x":787.5,"y":49},{"x":787,"y":52},{"x":786.5,"y":55.3},{"x":786,"y":54.5},{"x":785.5,"y":55.2},{"x":785,"y":55.6},{"x":784.5,"y":55},{"x":784,"y":53.2},{"x":783.5,"y":54},{"x":783.2,"y":56.1},{"x":782.7,"y":61},{"x":782.2,"y":67.1},{"x":781.8,"y":72},{"x":781.4,"y":76.6},{"x":780.8,"y":81.4},{"x":780.3,"y":79.8},{"x":779.8,"y":67.1},{"x":779.2,"y":51.3},{"x":778.5,"y":37.1},{"x":777.7,"y":29.2},{"x":776.9,"y":21.3},{"x":776.3,"y":20.5},{"x":775.5,"y":22.9},{"x":774.7,"y":21.3},{"x":773.7,"y":16.6},{"x":772.2,"y":12.6}
    ],
    "f_fit": [
      {"x":810.9,"y":43.8,"s":"bg"},{"x":808,"y":42.7,"s":"bg"},{"x":805,"y":41.5,"s":"bg"},{"x":802,"y":40.6,"s":"bg"},{"x":800,"y":39.5,"s":"bg"},{"x":797,"y":37.1,"s":"bg"},{"x":794,"y":34,"s":"bg"},{"x":792,"y":33.2,"s":"bg"},{"x":789,"y":32.4,"s":"bg"},{"x":786,"y":31.1,"s":"bg"},{"x":783.5,"y":28.8,"s":"bg"},{"x":782,"y":26,"s":"bg"},{"x":780.5,"y":21.5,"s":"bg"},{"x":779,"y":17.5,"s":"bg"},{"x":777,"y":15.2,"s":"bg"},{"x":775,"y":14.2,"s":"bg"},{"x":772.2,"y":13,"s":"bg"},
      {"x":809.5,"y":44,"s":"p1"},{"x":808.5,"y":45.2,"s":"p1"},{"x":807.5,"y":47,"s":"p1"},{"x":806.5,"y":48.2,"s":"p1"},{"x":805.5,"y":47,"s":"p1"},{"x":804.5,"y":45,"s":"p1"},{"x":803.5,"y":43,"s":"p1"},{"x":802.5,"y":41.5,"s":"p1"},{"x":801.5,"y":40.3,"s":"p1"},
      {"x":805.5,"y":41.5,"s":"p2"},{"x":804.5,"y":44,"s":"p2"},{"x":803.5,"y":50.5,"s":"p2"},{"x":803,"y":55,"s":"p2"},{"x":802.5,"y":57.7,"s":"p2"},{"x":802,"y":56,"s":"p2"},{"x":801.5,"y":52.1,"s":"p2"},{"x":801,"y":47.5,"s":"p2"},{"x":800.5,"y":43.4,"s":"p2"},{"x":799.5,"y":40.3,"s":"p2"},{"x":798,"y":38.7,"s":"p2"},{"x":796,"y":36.3,"s":"p2"},{"x":794,"y":34.5,"s":"p2"},
      {"x":792.5,"y":33.5,"s":"p4"},{"x":791.5,"y":35,"s":"p4"},{"x":790.8,"y":38.5,"s":"p4"},{"x":790.3,"y":40.3,"s":"p4"},{"x":789.8,"y":39.5,"s":"p4"},{"x":789.2,"y":36.3,"s":"p4"},{"x":788.5,"y":33.5,"s":"p4"},{"x":788,"y":32.6,"s":"p4"},
      {"x":789.8,"y":33,"s":"p5"},{"x":789.2,"y":36.5,"s":"p5"},{"x":788.7,"y":42.7,"s":"p5"},{"x":788.2,"y":39.5,"s":"p5"},{"x":787.7,"y":35,"s":"p5"},{"x":787,"y":32,"s":"p5"},
      {"x":789.5,"y":32.8,"s":"p6"},{"x":788.8,"y":35,"s":"p6"},{"x":788.3,"y":39,"s":"p6"},{"x":787.8,"y":45.5,"s":"p6"},{"x":787.2,"y":51.5,"s":"p6"},{"x":786.8,"y":53,"s":"p6"},{"x":786.4,"y":52,"s":"p6"},{"x":785.9,"y":47,"s":"p6"},{"x":785.4,"y":40,"s":"p6"},{"x":784.9,"y":35,"s":"p6"},{"x":784.3,"y":31.5,"s":"p6"},{"x":783.5,"y":29.5,"s":"p6"},{"x":783,"y":28.6,"s":"p6"},
      {"x":787.5,"y":31,"s":"p7"},{"x":786.5,"y":35,"s":"p7"},{"x":785.5,"y":40.5,"s":"p7"},{"x":784.5,"y":44.5,"s":"p7"},{"x":783.5,"y":45.3,"s":"p7"},{"x":782.7,"y":43,"s":"p7"},{"x":782,"y":37,"s":"p7"},{"x":781.3,"y":29,"s":"p7"},{"x":780.5,"y":22.5,"s":"p7"},{"x":779.5,"y":18.5,"s":"p7"},{"x":778.5,"y":16.5,"s":"p7"},{"x":777.8,"y":15.5,"s":"p7"},
      {"x":784,"y":29.5,"s":"p8"},{"x":783,"y":30.8,"s":"p8"},{"x":782.2,"y":40,"s":"p8"},{"x":781.6,"y":58,"s":"p8"},{"x":781.2,"y":69,"s":"p8"},{"x":780.8,"y":73.5,"s":"p8"},{"x":780.3,"y":67,"s":"p8"},{"x":779.8,"y":50,"s":"p8"},{"x":779.3,"y":33,"s":"p8"},{"x":778.6,"y":22,"s":"p8"},{"x":777.8,"y":17,"s":"p8"},{"x":777,"y":15.2,"s":"p8"},{"x":776,"y":14.5,"s":"p8"},
      {"x":777.3,"y":15.3,"s":"p9"},{"x":776.5,"y":17.5,"s":"p9"},{"x":776,"y":20,"s":"p9"},{"x":775.5,"y":22.9,"s":"p9"},{"x":775,"y":21.5,"s":"p9"},{"x":774.5,"y":18.5,"s":"p9"},{"x":774,"y":15.5,"s":"p9"},{"x":773.2,"y":13.8,"s":"p9"}
    ],
    "f_lab": [
      {"x":807.1,"y":56.7,"t":"806.5","s":"p1"},{"x":802.4,"y":63.4,"t":"802.5","s":"p2"},{"x":796.4,"y":65.6,"t":"796.5","s":"p3"},{"x":788.0,"y":53.2,"t":"786.6","s":"l6"},{"x":781.7,"y":46.9,"t":"783.2","s":"p7"},{"x":778.45,"y":72.5,"t":"780.7","s":"p8"},{"x":774.5,"y":27.6,"t":"775.4","s":"p9"}
    ]
  },
  "resolve": {"scale": {"color": "independent"}},
  "spacing": 2,
  "vconcat": [
    {
      "spacing": 14,
      "resolve": {"scale": {"color": "independent"}},
      "hconcat": [
        {
          "width": 238, "height": 188,
          "encoding": {
            "x": {"field": "x", "type": "quantitative", "scale": {"domain": [0, 1335], "reverse": true, "nice": false, "zero": false}, "axis": {"values": [1200, 1000, 800, 600, 400, 200, 0], "format": "d", "title": "Binding Energy (eV)"}},
            "y": {"field": "y", "type": "quantitative", "scale": {"domain": [0, 100], "nice": false}, "axis": {"title": "Counts / s", "titleFontSize": 10, "titlePadding": 14}}
          },
          "layer": [
            {"data": {"name": "a_raw"}, "mark": {"type": "line", "color": "#111", "strokeWidth": 1.3, "clip": true}},
            {"data": {"name": "a_lab"}, "mark": {"type": "text", "fontSize": 8.5, "color": "#111"}, "encoding": {"text": {"field": "t"}}},
            {"data": {"values": [{"x": 1244, "y": 89, "t": "(a)"}]}, "mark": {"type": "text", "fontSize": 14.5, "color": "#111"}, "encoding": {"text": {"field": "t"}}}
          ]
        },
        {
          "width": 239, "height": 192,
          "encoding": {
            "x": {"field": "x", "type": "quantitative", "scale": {"domain": [281, 294], "reverse": true, "nice": false, "zero": false}, "axis": {"values": [294, 292, 290, 288, 286, 284, 282], "title": "Binding Energy (eV)"}},
            "y": {"field": "y", "type": "quantitative", "scale": {"domain": [0, 100], "nice": false}, "axis": {"title": "Counts / s", "titleFontSize": 10.5, "titlePadding": 11}}
          },
          "layer": [
            {"data": {"name": "b_raw"}, "mark": {"type": "line", "color": "#333", "strokeWidth": 1.5, "clip": true}},
            {"data": {"name": "b_fit"}, "mark": {"type": "line", "strokeWidth": 1.3, "interpolate": "monotone", "clip": true}, "encoding": {"color": {"field": "s", "type": "nominal", "legend": null, "scale": {"domain": ["bg", "p1", "p2", "sat"], "range": ["#33dd33", "#2020b0", "#ff2ecf", "#9b1c1c"]}}}},
            {"data": {"name": "b_sum"}, "mark": {"type": "line", "color": "#ee1c24", "strokeWidth": 1.8, "interpolate": "monotone", "clip": true}},
            {"data": {"name": "b_lab"}, "mark": {"type": "text", "fontSize": 9.5}, "encoding": {"text": {"field": "t"}, "color": {"field": "s", "type": "nominal", "legend": null, "scale": {"domain": ["bg", "p1", "p2", "sat"], "range": ["#33dd33", "#2020b0", "#ff2ecf", "#9b1c1c"]}}}},
            {"data": {"values": [{"x": 293.06, "y": 89, "t": "(b)"}]}, "mark": {"type": "text", "fontSize": 14.5, "color": "#111"}, "encoding": {"text": {"field": "t"}}},
            {"data": {"values": [{"x": 282.05, "y": 92.6, "t": "C 1s"}]}, "mark": {"type": "text", "fontSize": 8.5, "color": "#111"}, "encoding": {"text": {"field": "t"}}}
          ]
        }
      ]
    },
    {
      "spacing": 19,
      "resolve": {"scale": {"color": "independent"}},
      "hconcat": [
        {
          "width": 235, "height": 188,
          "encoding": {
            "x": {"field": "x", "type": "quantitative", "scale": {"domain": [528, 538], "reverse": true, "nice": false, "zero": false}, "axis": {"values": [538, 536, 534, 532, 530, 528], "title": "Binding Energy (eV)", "titlePadding": 9}},
            "y": {"field": "y", "type": "quantitative", "scale": {"domain": [0, 100], "nice": false}, "axis": {"title": "Counts / s", "titleFontSize": 10, "titlePadding": 12}}
          },
          "layer": [
            {"data": {"name": "c_raw"}, "mark": {"type": "line", "color": "#444", "strokeWidth": 1.5, "clip": true}},
            {"data": {"name": "c_fit"}, "mark": {"type": "line", "strokeWidth": 1.3, "interpolate": "monotone", "clip": true}, "encoding": {"color": {"field": "s", "type": "nominal", "legend": null, "scale": {"domain": ["bg", "p1", "p2"], "range": ["#33dd33", "#2020b0", "#ff2ecf"]}}}},
            {"data": {"name": "c_sum"}, "mark": {"type": "line", "color": "#ee1c24", "strokeWidth": 1.8, "interpolate": "monotone", "clip": true}},
            {"data": {"name": "c_lab"}, "mark": {"type": "text", "fontSize": 9.5}, "encoding": {"text": {"field": "t"}, "color": {"field": "s", "type": "nominal", "legend": null, "scale": {"domain": ["bg", "p1", "p2"], "range": ["#33dd33", "#2020b0", "#ff2ecf"]}}}},
            {"data": {"values": [{"x": 537.3, "y": 91.7, "t": "(c)"}]}, "mark": {"type": "text", "fontSize": 14.5, "color": "#111"}, "encoding": {"text": {"field": "t"}}},
            {"data": {"values": [{"x": 528.64, "y": 94.2, "t": "O 1s"}]}, "mark": {"type": "text", "fontSize": 8.5, "color": "#111"}, "encoding": {"text": {"field": "t"}}}
          ]
        },
        {
          "width": 245, "height": 187,
          "encoding": {
            "x": {"field": "x", "type": "quantitative", "scale": {"domain": [393.7, 409.4], "reverse": true, "nice": false, "zero": false}, "axis": {"values": [408, 406, 404, 402, 400, 398, 396, 394], "title": "Binding Energy (eV)", "titleFontSize": 9, "labelFontSize": 8, "titlePadding": 9}},
            "y": {"field": "y", "type": "quantitative", "scale": {"domain": [0, 100], "nice": false}, "axis": {"title": "Counts / s", "titleFontSize": 9.5, "titlePadding": 6}}
          },
          "layer": [
            {"data": {"name": "d_raw"}, "mark": {"type": "line", "color": "#555", "strokeWidth": 1, "clip": true}},
            {"data": {"name": "d_fit"}, "mark": {"type": "line", "strokeWidth": 1.2, "interpolate": "monotone", "clip": true}, "encoding": {"color": {"field": "s", "type": "nominal", "legend": null, "scale": {"domain": ["bg", "p1", "p2", "p3", "p4", "p5"], "range": ["#33dd33", "#2020b0", "#2e9e4e", "#33e0e0", "#9b30d0", "#a31f1f"]}}}},
            {"data": {"name": "d_sum"}, "mark": {"type": "line", "color": "#ee1c24", "strokeWidth": 1.8, "interpolate": "monotone", "clip": true}},
            {"data": {"name": "d_lab"}, "mark": {"type": "text", "fontSize": 8.5}, "encoding": {"text": {"field": "t"}, "color": {"field": "s", "type": "nominal", "legend": null, "scale": {"domain": ["bg", "p1", "p2", "p3", "p4", "p5"], "range": ["#33dd33", "#2020b0", "#2e9e4e", "#33e0e0", "#9b30d0", "#a31f1f"]}}}},
            {"data": {"values": [{"x": 408.15, "y": 91, "t": "(d)"}]}, "mark": {"type": "text", "fontSize": 14.5, "color": "#111"}, "encoding": {"text": {"field": "t"}}},
            {"data": {"values": [{"x": 394.69, "y": 94, "t": "N 1s"}]}, "mark": {"type": "text", "fontSize": 9, "color": "#111"}, "encoding": {"text": {"field": "t"}}}
          ]
        }
      ]
    },
    {
      "spacing": 22,
      "resolve": {"scale": {"color": "independent"}},
      "hconcat": [
        {
          "width": 234, "height": 210,
          "encoding": {
            "x": {"field": "x", "type": "quantitative", "scale": {"domain": [847.9, 883.7], "reverse": true, "nice": false, "zero": false}, "axis": {"values": [880, 875, 870, 865, 860, 855, 850], "title": "Binding Energy (eV)", "titleFontSize": 10, "labelFontSize": 7.5}},
            "y": {"field": "y", "type": "quantitative", "scale": {"domain": [0, 100], "nice": false}, "axis": {"title": "Counts / s", "titleFontSize": 10, "titlePadding": 10}}
          },
          "layer": [
            {"data": {"name": "e_raw"}, "mark": {"type": "line", "color": "#555", "strokeWidth": 1, "clip": true}},
            {"data": {"name": "e_fit"}, "mark": {"type": "line", "strokeWidth": 1.2, "interpolate": "monotone", "clip": true}, "encoding": {"color": {"field": "s", "type": "nominal", "legend": null, "scale": {"domain": ["bg", "p1", "p2", "p3", "p4", "p5", "p6", "l6", "p7", "l7", "p8", "p9"], "range": ["#33dd33", "#22c5d5", "#c09040", "#a0a030", "#3a9a3a", "#8b5a2b", "#3a9fd8", "#2020b0", "#a83232", "#ff2020", "#ff7f27", "#a040e0"]}}}},
            {"data": {"name": "e_sum"}, "mark": {"type": "line", "color": "#ee1c24", "strokeWidth": 1.8, "interpolate": "monotone", "clip": true}},
            {"data": {"name": "e_lab"}, "mark": {"type": "text", "fontSize": 7.5}, "encoding": {"text": {"field": "t"}, "color": {"field": "s", "type": "nominal", "legend": null, "scale": {"domain": ["bg", "p1", "p2", "p3", "p4", "p5", "p6", "l6", "p7", "l7", "p8", "p9"], "range": ["#33dd33", "#22c5d5", "#c09040", "#a0a030", "#3a9a3a", "#8b5a2b", "#3a9fd8", "#2020b0", "#a83232", "#ff2020", "#ff7f27", "#a040e0"]}}}},
            {"data": {"values": [{"x": 880.5, "y": 92, "t": "(e)"}]}, "mark": {"type": "text", "fontSize": 14.5, "color": "#111"}, "encoding": {"text": {"field": "t"}}},
            {"data": {"values": [{"x": 849.85, "y": 94, "t": "Ni 2p"}]}, "mark": {"type": "text", "fontSize": 8.5, "color": "#111"}, "encoding": {"text": {"field": "t"}}}
          ]
        },
        {
          "width": 243, "height": 211,
          "encoding": {
            "x": {"field": "x", "type": "quantitative", "scale": {"domain": [772.2, 810.9], "reverse": true, "nice": false, "zero": false}, "axis": {"values": [810, 805, 800, 795, 790, 785, 780, 775], "title": "Binding Energy (eV)", "titleFontSize": 9, "labelFontSize": 7.5}},
            "y": {"field": "y", "type": "quantitative", "scale": {"domain": [0, 100], "nice": false}, "axis": {"title": "Counts / s", "titleFontSize": 9, "titlePadding": 7}}
          },
          "layer": [
            {"data": {"name": "f_raw"}, "mark": {"type": "line", "color": "#555", "strokeWidth": 1, "clip": true}},
            {"data": {"name": "f_fit"}, "mark": {"type": "line", "strokeWidth": 1.2, "interpolate": "monotone", "clip": true}, "encoding": {"color": {"field": "s", "type": "nominal", "legend": null, "scale": {"domain": ["bg", "p1", "p2", "p3", "p4", "p5", "p6", "l6", "p7", "p8", "p9"], "range": ["#33dd33", "#a8a040", "#b070e0", "#3a9a3a", "#20b0b0", "#f0a030", "#1f8fd0", "#2020b0", "#8b4a4a", "#ff66cc", "#ff7f27"]}}}},
            {"data": {"name": "f_sum"}, "mark": {"type": "line", "color": "#ee1c24", "strokeWidth": 1.8, "interpolate": "monotone", "clip": true}},
            {"data": {"name": "f_lab"}, "mark": {"type": "text", "fontSize": 7.5}, "encoding": {"text": {"field": "t"}, "color": {"field": "s", "type": "nominal", "legend": null, "scale": {"domain": ["bg", "p1", "p2", "p3", "p4", "p5", "p6", "l6", "p7", "p8", "p9"], "range": ["#33dd33", "#a8a040", "#b070e0", "#3a9a3a", "#20b0b0", "#f0a030", "#1f8fd0", "#2020b0", "#8b4a4a", "#ff66cc", "#ff7f27"]}}}},
            {"data": {"values": [{"x": 808.1, "y": 92, "t": "(f)"}]}, "mark": {"type": "text", "fontSize": 14.5, "color": "#111"}, "encoding": {"text": {"field": "t"}}},
            {"data": {"values": [{"x": 774.3, "y": 94.8, "t": "Co 2p"}]}, "mark": {"type": "text", "fontSize": 8, "color": "#111"}, "encoding": {"text": {"field": "t"}}}
          ]
        }
      ]
    }
  ]
}
